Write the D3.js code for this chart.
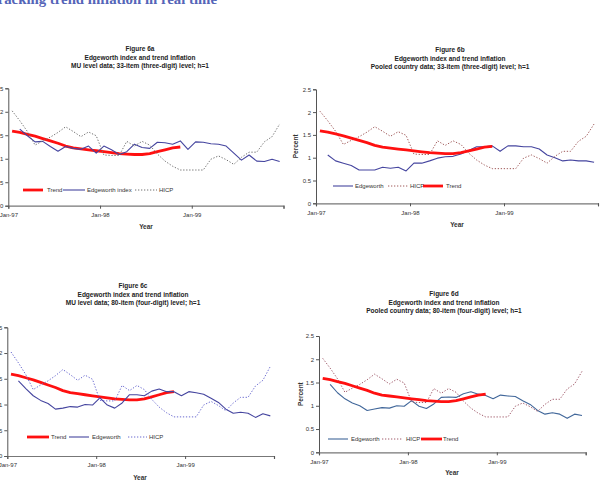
<!DOCTYPE html>
<html><head><meta charset="utf-8">
<script src="https://cdn.jsdelivr.net/npm/d3@7"></script>
<style>
html,body{margin:0;padding:0;background:#fff;}
svg{display:block;}
text{font-family:"Liberation Sans",Arial,sans-serif;}
</style></head>
<body>
<svg id="c" width="601" height="497"></svg>
<script>
// ---------- DATA ----------
const months = ["Jan-97","Feb-97","Mar-97","Apr-97","May-97","Jun-97","Jul-97","Aug-97","Sep-97","Oct-97","Nov-97","Dec-97",
  "Jan-98","Feb-98","Mar-98","Apr-98","May-98","Jun-98","Jul-98","Aug-98","Sep-98","Oct-98","Nov-98","Dec-98",
  "Jan-99","Feb-99","Mar-99","Apr-99","May-99","Jun-99","Jul-99","Aug-99","Sep-99","Oct-99","Nov-99","Dec-99"];
const xTickLabels = ["Jan-97","Jan-98","Jan-99"];
const yTicks = [0, 0.5, 1, 1.5, 2, 2.5];

const hicp = [2.02,1.81,1.58,1.29,1.38,1.46,1.56,1.68,1.58,1.47,1.57,1.49,1.08,1.07,1.07,1.37,1.27,1.37,1.29,1.10,0.95,0.84,0.76,0.76,
  0.76,0.76,0.99,1.06,0.98,0.88,1.03,1.14,1.14,1.36,1.47,1.74];
const trend = [1.59,1.56,1.52,1.48,1.43,1.38,1.33,1.27,1.23,1.21,1.19,1.17,1.15,1.13,1.11,1.10,1.09,1.09,1.11,1.15,1.19,1.23,1.25];

const edgeworthA = [null,1.63,1.49,1.36,1.37,1.26,1.16,1.26,1.22,1.20,1.27,1.12,1.27,1.19,1.09,1.15,1.31,1.24,1.22,1.35,1.34,1.31,1.38,1.20,
  1.36,1.35,1.32,1.31,1.27,1.12,0.97,1.08,0.95,0.94,0.99,0.94];
const edgeworthB = [null,1.06,0.93,0.88,0.83,0.73,0.73,0.73,0.79,0.77,0.79,0.71,0.88,0.88,0.93,0.99,1.02,1.03,1.08,1.16,1.24,1.24,1.26,1.14,
  1.26,1.26,1.24,1.24,1.19,1.06,1.00,0.93,0.95,0.93,0.93,0.90];
const edgeworthC = [null,1.46,1.31,1.17,1.08,1.02,0.91,0.93,0.96,0.95,1.00,0.99,1.13,0.99,0.93,1.03,1.19,1.19,1.17,1.26,1.30,1.25,1.25,1.17,
  1.25,1.23,1.20,1.12,1.04,0.91,0.83,0.85,0.83,0.75,0.82,0.78];
const edgeworthD = [null,1.46,1.28,1.15,1.06,1.00,0.90,0.93,0.96,0.95,1.00,0.99,1.11,0.99,0.94,1.04,1.18,1.19,1.18,1.26,1.30,1.25,1.22,1.15,
  1.23,1.21,1.20,1.11,1.03,0.90,0.82,0.85,0.82,0.73,0.82,0.79];

const titleLine2 = "Edgeworth index and trend inflation";

// ---------- LAYOUT ----------
const svg = d3.select("#c");

svg.append("text").attr("x", 217).attr("y", 4).attr("text-anchor", "end")
  .style("font-family", "'Liberation Serif','Times New Roman',serif").style("font-weight", "bold")
  .style("font-size", "14.8px").attr("fill", "#5565b8")
  .text("Tracking trend inflation in real time");

const panels = [
  { x0: 8.3, x1: 283.5, yT: 88.3, yB: 205.7, tx: 140, ty: 49, yearX: 146, yearY: 229, pctX: -12,
    title: ["Figure 6a", titleLine2, "MU level data; 33-item (three-digit) level; h=1"],
    edge: edgeworthA, edgeColor: "#45459f", hicpColor: "#707070", edgeName: "Edgeworth index",
    order: ["trend","edge","hicp"], ly: 190, leg: [[23,43,47],[63,85,87],[135,157,159]] },
  { x0: 316, x1: 598, yT: 89.3, yB: 203.3, tx: 450, ty: 50, yearX: 457, yearY: 227, pctX: 298,
    title: ["Figure 6b", titleLine2, "Pooled country data; 33-item (three-digit) level; h=1"],
    edge: edgeworthB, edgeColor: "#45459f", hicpColor: "#a05a5a", edgeName: "Edgeworth",
    order: ["edge","hicp","trend"], ly: 186, leg: [[333,353,355],[388,408,410],[423,443,446]] },
  { x0: 7.3, x1: 274, yT: 327.3, yB: 456, tx: 133, ty: 286, yearX: 140, yearY: 480, pctX: -12,
    title: ["Figure 6c", titleLine2, "MU level data; 80-item (four-digit) level; h=1"],
    edge: edgeworthC, edgeColor: "#45459f", hicpColor: "#6a6ad0", edgeName: "Edgeworth",
    order: ["trend","edge","hicp"], ly: 437, leg: [[27,49,51],[69,89,92],[128,147,149]] },
  { x0: 319, x1: 585.7, yT: 336, yB: 452.3, tx: 444, ty: 294, yearX: 452, yearY: 475, pctX: 303,
    title: ["Figure 6d", titleLine2, "Pooled country data; 80-item (four-digit) level; h=1"],
    edge: edgeworthD, edgeColor: "#41679a", hicpColor: "#a05a6a", edgeName: "Edgeworth",
    order: ["edge","hicp","trend"], ly: 439, leg: [[328,348,351],[382,403,406],[421,442,443]] }
];

const textColor = "#333";

panels.forEach(p => {
  const g = svg.append("g");
  const x = d3.scaleLinear().domain([0, months.length]).range([p.x0, p.x1]);
  const y = d3.scaleLinear().domain([0, 2.5]).range([p.yB, p.yT]);

  // titles
  p.title.forEach((t, i) => {
    g.append("text").attr("x", p.tx).attr("y", p.ty + i * 8.2 + 2.3).attr("text-anchor", "middle")
      .style("font-size", "6.5px").style("font-weight", "bold").attr("fill", "#222").text(t);
  });

  // y axis
  const ya = g.append("g").attr("transform", `translate(${p.x0},0)`)
    .call(d3.axisLeft(y).tickValues(yTicks).tickSize(3).tickPadding(2).tickFormat(d3.format("")));
  ya.select(".domain").attr("stroke", "#555");
  ya.selectAll(".tick line").attr("stroke", "#555");
  ya.selectAll("text").style("font-size", "6px").attr("fill", textColor).style("font-family", "'Liberation Sans',Arial,sans-serif");

  // x axis
  const xa = g.append("g").attr("transform", `translate(0,${p.yB})`)
    .call(d3.axisBottom(x).tickValues([0, 12, 24, 36]).tickSize(3).tickPadding(4)
      .tickFormat(d => xTickLabels[d / 12] || ""));
  xa.select(".domain").attr("stroke", "#777").attr("stroke-width", 1.2);
  xa.selectAll(".tick line").attr("stroke", "#555");
  xa.selectAll("text").style("font-size", "6px").attr("fill", textColor).style("font-family", "'Liberation Sans',Arial,sans-serif");

  // axis titles
  g.append("text").attr("x", p.yearX).attr("y", p.yearY).attr("text-anchor", "middle")
    .style("font-size", "6.5px").style("font-weight", "bold").attr("fill", textColor).text("Year");
  g.append("text").attr("transform", `translate(${p.pctX},${(p.yT + p.yB) / 2}) rotate(-90)`)
    .attr("text-anchor", "middle").style("font-size", "6.5px").style("font-weight", "bold")
    .attr("fill", textColor).text("Percent");

  const line = d3.line().defined(d => d != null).x((d, i) => x(i + 0.5)).y(d => y(d));

  const styles = {
    trend: { data: trend, color: "#ff1010", w: 2.8, dash: null, name: "Trend" },
    edge: { data: p.edge, color: p.edgeColor, w: 1.1, dash: null, name: p.edgeName },
    hicp: { data: hicp, color: p.hicpColor, w: 1, dash: "1.3,1.7", name: "HICP" }
  };

  p.order.forEach((k, j) => {
    const s = styles[k];
    g.append("path").attr("d", line(s.data)).attr("fill", "none").attr("stroke", s.color)
      .attr("stroke-width", s.w).attr("stroke-dasharray", s.dash).attr("stroke-linejoin", "round");
    const L = p.leg[j];
    g.append("line").attr("x1", L[0]).attr("x2", L[1]).attr("y1", p.ly).attr("y2", p.ly)
      .attr("stroke", s.color).attr("stroke-width", s.w).attr("stroke-dasharray", s.dash);
    g.append("text").attr("x", L[2]).attr("y", p.ly + 2.1).style("font-size", "6px")
      .attr("fill", textColor).text(s.name);
  });
});
</script>
</body></html>
